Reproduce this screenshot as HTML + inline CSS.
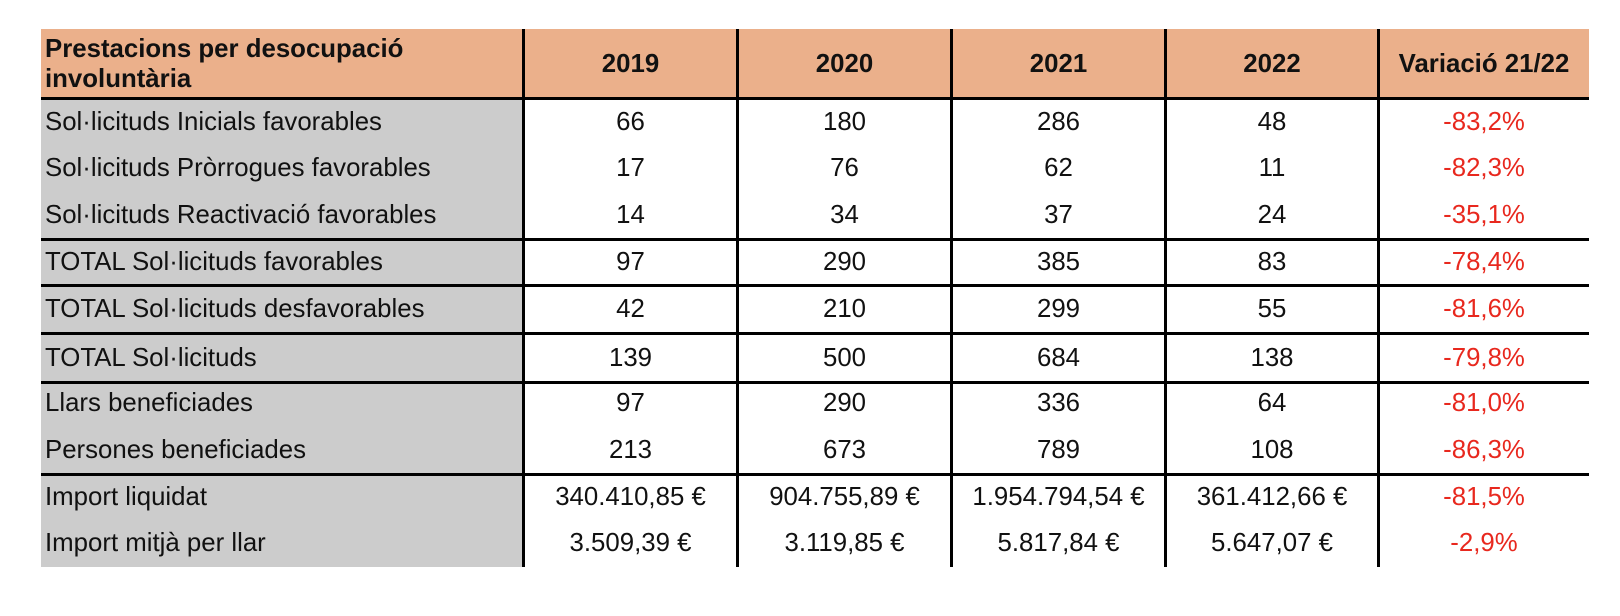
<!DOCTYPE html>
<html><head><meta charset="utf-8"><style>
body{margin:0;width:1620px;height:616px;background:#fff;position:relative;font-family:"Liberation Sans",Arial,sans-serif;overflow:hidden}
.a{position:absolute}
.t{position:absolute;font-size:25.8px;color:#111;line-height:30px;white-space:nowrap}
.c{text-align:center}
.r{color:#e8281e}
.b{font-weight:bold}
</style></head><body>
<div class="a" style="left:41px;top:29px;width:1548px;height:69px;background:#ebb08b"></div>
<div class="a" style="left:41px;top:98px;width:482px;height:469px;background:#cccccc"></div>
<div class="a" style="left:41px;top:97px;width:1548px;height:3px;background:#000"></div>
<div class="a" style="left:41px;top:238px;width:1548px;height:3px;background:#000"></div>
<div class="a" style="left:41px;top:284px;width:1548px;height:3px;background:#000"></div>
<div class="a" style="left:41px;top:332px;width:1548px;height:3px;background:#000"></div>
<div class="a" style="left:41px;top:381px;width:1548px;height:3px;background:#000"></div>
<div class="a" style="left:41px;top:473px;width:1548px;height:3px;background:#000"></div>
<div class="a" style="left:522px;top:29px;width:3px;height:538px;background:#000"></div>
<div class="a" style="left:736px;top:29px;width:3px;height:538px;background:#000"></div>
<div class="a" style="left:950px;top:29px;width:3px;height:538px;background:#000"></div>
<div class="a" style="left:1164px;top:29px;width:3px;height:538px;background:#000"></div>
<div class="a" style="left:1377px;top:29px;width:3px;height:538px;background:#000"></div>

<div class="t b" style="left:45px;top:34px;line-height:30px">Prestacions per desocupació<br>involuntària</div>
<div class="t b c" style="left:524px;width:213px;top:49px">2019</div>
<div class="t b c" style="left:738px;width:213px;top:49px">2020</div>
<div class="t b c" style="left:952px;width:213px;top:49px">2021</div>
<div class="t b c" style="left:1166px;width:212px;top:49px">2022</div>
<div class="t b c" style="left:1379px;width:210px;top:49px">Variació 21/22</div>

<div id="rows"></div>
<script>
const rows=[
[122,"Sol·licituds Inicials favorables","66","180","286","48","-83,2%"],
[168,"Sol·licituds Pròrrogues favorables","17","76","62","11","-82,3%"],
[215,"Sol·licituds Reactivació favorables","14","34","37","24","-35,1%"],
[262,"TOTAL Sol·licituds favorables","97","290","385","83","-78,4%"],
[309,"TOTAL Sol·licituds desfavorables","42","210","299","55","-81,6%"],
[358,"TOTAL Sol·licituds","139","500","684","138","-79,8%"],
[403,"Llars beneficiades","97","290","336","64","-81,0%"],
[450,"Persones beneficiades","213","673","789","108","-86,3%"],
[497,"Import liquidat","340.410,85 €","904.755,89 €","1.954.794,54 €","361.412,66 €","-81,5%"],
[543,"Import mitjà per llar","3.509,39 €","3.119,85 €","5.817,84 €","5.647,07 €","-2,9%"]];
const cols=[[524,213],[738,213],[952,213],[1166,212],[1379,210]];
let h="";
for(const r of rows){
 const y=r[0]-15;
 h+=`<div class="t" style="left:45px;top:${y}px">${r[1]}</div>`;
 for(let i=0;i<5;i++){
  h+=`<div class="t c${i==4?' r':''}" style="left:${cols[i][0]}px;width:${cols[i][1]}px;top:${y}px">${r[i+2]}</div>`;
 }
}
document.getElementById("rows").innerHTML=h;
</script>
</body></html>
